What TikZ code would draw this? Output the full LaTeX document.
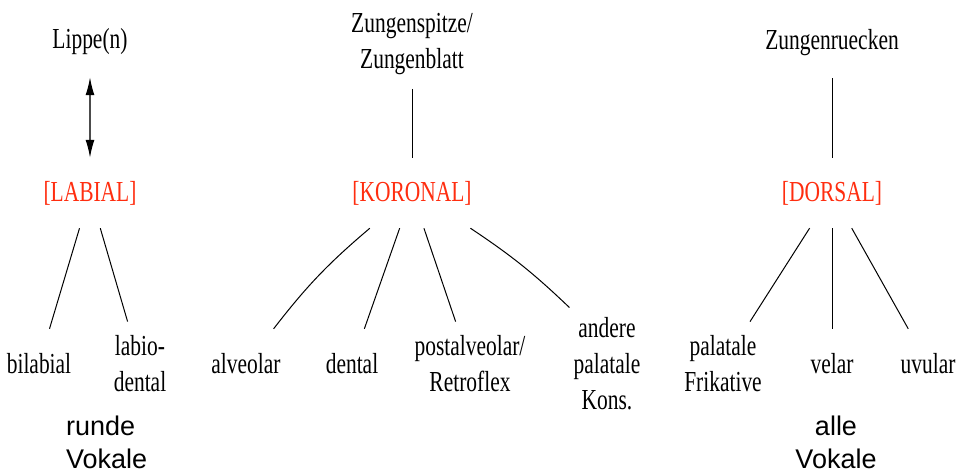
\documentclass[tikz,border=0pt]{standalone}
\usepackage{fontspec}
\setmainfont{Liberation Serif}[FakeStretch=0.74]
\newfontfamily\vokfont{Liberation Sans}
\usepackage{tikz}
\usetikzlibrary{arrows.meta}
\definecolor{merkmal}{RGB}{255,45,15}

\begin{document}
\begin{tikzpicture}[x=1pt,y=-1pt,
		every node/.style={font=\fontsize{29}{36}\selectfont, align=center, inner xsep=4pt, inner ysep=14pt, minimum height=70pt},
		feature/.style={text=merkmal},
		vokal/.style={font=\vokfont\fontsize{27}{33}\selectfont, inner sep=0pt, minimum height=0pt},
		ast/.style={line width=1pt, black},
		pfeil/.style={line width=1.5pt, black!70, {Latex[length=18pt,width=9pt,color=black]}-{Latex[length=18pt,width=9pt,color=black]}}]
		\useasboundingbox (0,0) rectangle (957,475);
		
		% Artikulatoren
		\node (lippe) at (90,42) {Lippe(n)};
		\node (spitze) at (412,44) {Zungenspitze/\\Zungenblatt};
		\node (ruecken) at (832,43) {Zungenruecken};
		
		% Merkmale
		\node[feature] (labial) at (90,193) {[LABIAL]};
		\node[feature] (koronal) at (412,193) {[KORONAL]};
		\node[feature] (dorsal) at (832,193) {[DORSAL]};
		
		% Artikulationsorte
		\node (bilabial) at (39,364) {bilabial};
		\node (labiodental) at (140,364) {labio-\\dental};
		\node (alveolar) at (246,364) {alveolar};
		\node (dental) at (352,364) {dental};
		\node (postalv) at (470,364) {postalveolar/\\Retroflex};
		\node[inner ysep=10pt] (andere) at (607,364) {andere\\palatale\\Kons.};
		\node (palfrik) at (723,364) {palatale\\Frikative};
		\node (velar) at (832,364) {velar};
		\node (uvular) at (928,364) {uvular};
		
		\node[vokal, anchor=west, align=left] (runde) at (66,442) {runde\\Vokale};
		\node[vokal] (alle) at (836,442) {alle\\Vokale};
		
		\draw[pfeil] (lippe) -- (labial);
		\draw[ast] (spitze) -- (koronal);
		\draw[ast] (ruecken) -- (dorsal);
		
		\draw[ast] (labial) -- (bilabial);
		\draw[ast] (labial) -- (labiodental);
		
		\draw[ast] (koronal) to[bend right=6] (alveolar);
		\draw[ast] (koronal) -- (dental);
		\draw[ast] (koronal) -- (postalv);
		\draw[ast] (koronal) to[bend left=5] (andere.north west);
		
		\draw[ast] (dorsal) -- (palfrik);
		\draw[ast] (dorsal) -- (velar);
		\draw[ast] (dorsal) -- (uvular);
	\end{tikzpicture}
\end{document}
